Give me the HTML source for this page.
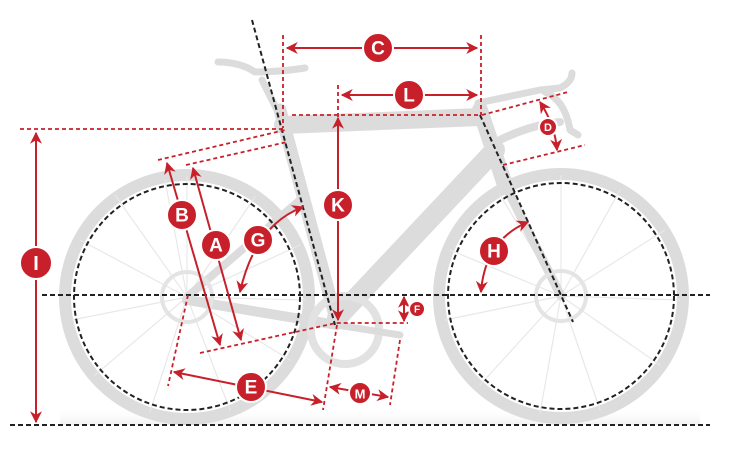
<!DOCTYPE html>
<html><head><meta charset="utf-8"><style>
html,body{margin:0;padding:0;background:#fff;width:750px;height:466px;overflow:hidden}
svg{display:block}
text{font-family:"Liberation Sans",sans-serif;font-weight:bold;fill:#fff;text-anchor:middle;dominant-baseline:central}
</style></head><body>
<svg width="750" height="466" viewBox="0 0 750 466" xmlns="http://www.w3.org/2000/svg">
<defs>
<marker id="ar" viewBox="0 0 10 10" refX="9" refY="5" markerWidth="6" markerHeight="6" orient="auto-start-reverse"><path d="M0,0 L10,5 L0,10 L3,5 z" fill="#c8202a"/></marker>
<linearGradient id="gs" x1="0" y1="0" x2="0" y2="1"><stop offset="0" stop-color="#fff" stop-opacity="0"/><stop offset="1" stop-color="#f1f1f1"/></linearGradient>
</defs>
<rect x="60" y="408" width="640" height="17" fill="url(#gs)"/>
<!-- bike -->
<g fill="none" stroke="#dcdcdc" stroke-linecap="round" stroke-linejoin="round">
<circle cx="187" cy="297" r="122" stroke-width="12"/>
<circle cx="561" cy="296" r="122" stroke-width="12"/>
<g stroke-width="1.2" stroke="#e8e8e8">
<path d="M187,297 L187,177 M187,297 L255,197 M187,297 L300,245 M187,297 L305,300 M187,297 L290,360 M187,297 L230,410 M187,297 L150,412 M187,297 L95,375 M187,297 L72,320 M187,297 L80,240 M187,297 L115,195 M187,297 L165,180"/>
<path d="M561,296 L561,176 M561,296 L620,190 M561,296 L665,230 M561,296 L680,300 M561,296 L660,365 M561,296 L600,410 M561,296 L540,413 M561,296 L480,385 M561,296 L445,320 M561,296 L450,250 M561,296 L500,195"/>
</g>
<path d="M283,125 L480,117" stroke-width="18"/>
<path d="M280,110 L337,323" stroke-width="13"/>
<path d="M495,150 L337,318" stroke-width="20"/>
<path d="M480,110 L505,185" stroke-width="16"/>
<path d="M505,185 L561,296" stroke-width="9"/>
<path d="M300,200 L187,297" stroke-width="8"/>
<path d="M187,300 L337,325" stroke-width="10"/>
<path d="M262,80 L282,120" stroke-width="7"/>
<path d="M218,62 Q240,62 255,72 Q280,72 305,68" stroke-width="7"/>
<path d="M478,103 L540,90 L560,88 Q572,82 572,73 M545,92 Q565,100 570,130 L578,135" stroke-width="7"/>
<path d="M500,140 Q530,125 560,122" stroke-width="8"/>
<circle cx="345" cy="330" r="34" stroke-width="8" stroke="#e2e2e2"/>
<path d="M337,325 L400,335" stroke-width="7"/>
<circle cx="187" cy="297" r="25" stroke-width="4" stroke="#e4e4e4"/>
<circle cx="561" cy="296" r="25" stroke-width="4" stroke="#e4e4e4"/>
</g>
<!-- black dashed -->
<g fill="none" stroke="#222" stroke-width="2" stroke-dasharray="5,3">
<circle cx="187" cy="297" r="113"/>
<circle cx="561" cy="296" r="113"/>
<path d="M42,295 L710,295"/>
<path d="M10,425 L710,425"/>
<path d="M252,20 L335,325"/>
<path d="M480,115 L573,322"/>
</g>
<!-- red dashed -->
<g fill="none" stroke="#c8202a" stroke-width="1.8" stroke-dasharray="4,3">
<path d="M283,35 L283,128 M481,35 L481,115 M338,85 L338,118 M292,115 L480,115 M20,129 L285,129"/>
<path d="M158,160 L285,130 M186,165 L287,142"/>
<path d="M200,353 L336,323 L408,323"/>
<path d="M188,295 L168,386 M337,325 L323,410 M400,340 L390,405"/>
<path d="M482,115 L568,92 M503,165 L585,145"/>
</g>
<!-- red arrows -->
<g fill="none" stroke="#c8202a" stroke-width="2" marker-start="url(#ar)" marker-end="url(#ar)">
<path d="M287,48 L477,48"/>
<path d="M342,95 L477,95"/>
<path d="M36,133 L36,422"/>
<path d="M167,163 L220,345"/>
<path d="M193,168 L241,340"/>
<path d="M338,118 L338,320"/>
<path d="M174,372 L322,402"/>
<path d="M330,387 L388,397"/>
<path d="M404,297 L404,321"/>
<path d="M303,207 Q255,225 240,292"/>
<path d="M528,222 Q485,240 481,292"/>
<path d="M540,102 Q555,125 557,150"/>
</g>
<!-- labels -->
<g stroke="#fff" stroke-width="2" fill="#c8202a">
<circle cx="378" cy="48" r="15"/>
<circle cx="409" cy="95" r="15"/>
<circle cx="36" cy="263" r="16"/>
<circle cx="182" cy="215" r="15"/>
<circle cx="216" cy="245" r="15"/>
<circle cx="258" cy="240" r="15"/>
<circle cx="338" cy="205" r="15"/>
<circle cx="251" cy="387" r="15"/>
<circle cx="494" cy="251" r="15"/>
<circle cx="360" cy="393" r="11"/>
<circle cx="548" cy="127" r="9"/>
<circle cx="417" cy="309" r="8"/>
</g>
<text x="378" y="49" font-size="19">C</text>
<text x="409" y="96" font-size="19">L</text>
<text x="36" y="264" font-size="20">I</text>
<text x="182" y="216" font-size="19">B</text>
<text x="216" y="246" font-size="19">A</text>
<text x="258" y="241" font-size="19">G</text>
<text x="338" y="206" font-size="19">K</text>
<text x="251" y="388" font-size="19">E</text>
<text x="494" y="252" font-size="19">H</text>
<text x="360" y="394" font-size="13">M</text>
<text x="548" y="128" font-size="11">D</text>
<text x="417" y="310" font-size="10">F</text>
</svg>
</body></html>
